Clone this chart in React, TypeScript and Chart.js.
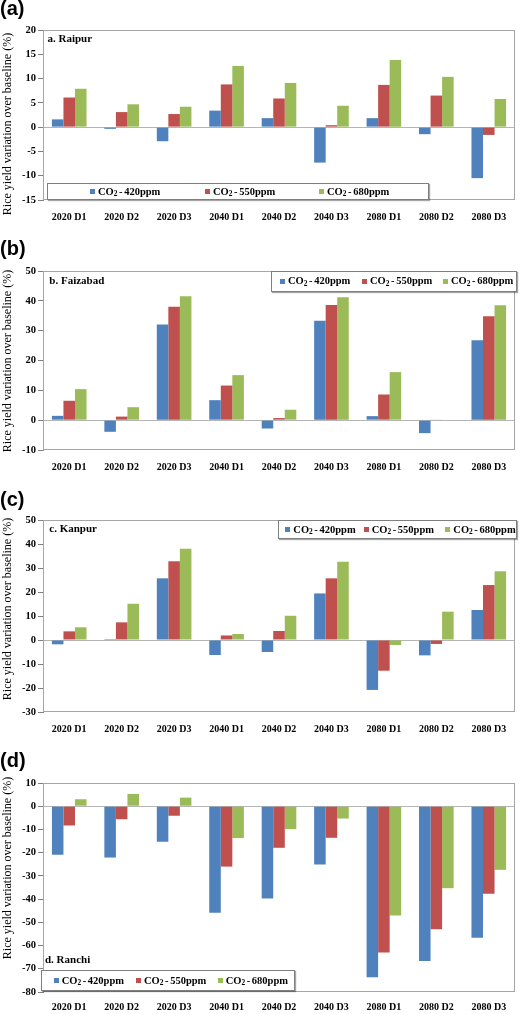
import React, { useEffect, useRef } from 'react';
import { Chart, registerables } from 'chart.js';

Chart.register(...registerables);

// ---------- data ----------
const CATEGORIES = ['2020 D1', '2020 D2', '2020 D3', '2040 D1', '2040 D2', '2040 D3', '2080 D1', '2080 D2', '2080 D3'];
const SERIES_PPM = ['420ppm', '550ppm', '680ppm'];
const SERIES_NAMES = ['CO₂ - 420ppm', 'CO₂ - 550ppm', 'CO₂ - 680ppm'];

const RAIPUR_420 = [1.6, -0.35, -2.9, 3.4, 1.85, -7.3, 1.85, -1.45, -10.5];
const RAIPUR_550 = [6.1, 3.1, 2.7, 8.8, 5.9, 0.4, 8.7, 6.5, -1.6];
const RAIPUR_680 = [7.9, 4.7, 4.2, 12.6, 9.1, 4.4, 13.8, 10.35, 5.8];

const FAIZABAD_420 = [1.45, -3.9, 32.1, 6.7, -2.8, 33.3, 1.35, -4.35, 26.8];
const FAIZABAD_550 = [6.5, 1.2, 38.0, 11.6, 0.7, 38.6, 8.6, 0.2, 34.8];
const FAIZABAD_680 = [10.4, 4.35, 41.5, 15.1, 3.5, 41.2, 16.1, 0, 38.5];

const KANPUR_420 = [-1.8, 0.4, 25.7, -6.25, -5.0, 19.4, -20.8, -6.4, 12.5];
const KANPUR_550 = [3.6, 7.35, 32.8, 1.9, 3.75, 25.7, -12.8, -1.65, 22.9];
const KANPUR_680 = [5.3, 15.1, 38.0, 2.5, 10.1, 32.6, -2.1, 11.8, 28.6];

const RANCHI_420 = [-20.9, -22.1, -15.3, -45.9, -39.7, -25.1, -73.7, -66.7, -56.6];
const RANCHI_550 = [-8.3, -5.6, -4.1, -26.0, -17.9, -13.6, -63.0, -53.0, -37.7];
const RANCHI_680 = [3.0, 5.3, 3.7, -13.7, -9.9, -5.3, -47.1, -35.3, -27.4];

// y axis: [min, max, step]
const RAIPUR_Y = [-15, 20, 5];
const FAIZABAD_Y = [-10, 50, 10];
const KANPUR_Y = [-30, 50, 10];
const RANCHI_Y = [-80, 10, 10];

const Y_TITLE = 'Rice yield variation over baseline (%)';

// ---------- styles ----------
const SERIES_COLORS = ['#4F81BD', '#C0504D', '#9BBB59'];
const SERIF = "'Liberation Serif', 'Times New Roman', serif";
const SANS = "'Liberation Sans', Arial, sans-serif";
const AREA_LEFT = 43;
const AREA_RIGHT_PAD = 5;

type LegendSpec = { left: number; top: number; width: number; height: number; offsets: number[] };
type PanelSpec = {
  letter: string;
  name: string;
  values: number[][];
  y: number[];
  canvasTop: number;
  canvasHeight: number;
  areaTop: number;
  areaBottom: number;
  labelGap: number;
  letterTop: number;
  nameX: number;
  nameY: number;
  titleY: number;
  legend: LegendSpec;
};

const PANELS: PanelSpec[] = [
  {
    letter: '(a)', name: 'a. Raipur', values: [RAIPUR_420, RAIPUR_550, RAIPUR_680], y: RAIPUR_Y,
    canvasTop: 0, canvasHeight: 235, areaTop: 30, areaBottom: 200, labelGap: 17,
    letterTop: -2, nameX: 47.5, nameY: 39.3, titleY: 124,
    legend: { left: 47, top: 183, width: 382, height: 17, offsets: [42, 157, 271] },
  },
  {
    letter: '(b)', name: 'b. Faizabad', values: [FAIZABAD_420, FAIZABAD_550, FAIZABAD_680], y: FAIZABAD_Y,
    canvasTop: 235, canvasHeight: 250, areaTop: 271, areaBottom: 450, labelGap: 17,
    letterTop: 238, nameX: 49.3, nameY: 280.7, titleY: 361,
    legend: { left: 271, top: 271, width: 246, height: 20.5, offsets: [8, 90, 171] },
  },
  {
    letter: '(c)', name: 'c. Kanpur', values: [KANPUR_420, KANPUR_550, KANPUR_680], y: KANPUR_Y,
    canvasTop: 485, canvasHeight: 262, areaTop: 520, areaBottom: 712, labelGap: 17,
    letterTop: 489, nameX: 49.3, nameY: 529.3, titleY: 609,
    legend: { left: 278.3, top: 520, width: 238.4, height: 19.3, offsets: [6, 84.4, 166] },
  },
  {
    letter: '(d)', name: 'd. Ranchi', values: [RANCHI_420, RANCHI_550, RANCHI_680], y: RANCHI_Y,
    canvasTop: 747, canvasHeight: 267, areaTop: 783, areaBottom: 992, labelGap: 15,
    letterTop: 750, nameX: 45, nameY: 960, titleY: 868,
    legend: { left: 40.7, top: 970, width: 254, height: 21, offsets: [12, 94.3, 176] },
  },
];

const framePlugin = {
  id: 'plotFrame',
  beforeDatasetsDraw(chart: any) {
    const { ctx, chartArea: a } = chart;
    ctx.save();
    ctx.strokeStyle = '#a6a6a6';
    ctx.lineWidth = 1;
    const l = Math.round(a.left) + 0.5;
    const t = Math.round(a.top) + 0.5;
    const r = Math.round(a.right) - 0.5;
    const b = Math.round(a.bottom) - 0.5;
    ctx.strokeRect(l, t, r - l, b - t);
    ctx.restore();
  },
};

function Panel({ p }: { p: PanelSpec }) {
  const ref = useRef<HTMLCanvasElement>(null);

  useEffect(() => {
    const canvas = ref.current;
    if (!canvas) return;
    const chart = new Chart(canvas, {
      type: 'bar',
      data: {
        labels: CATEGORIES,
        datasets: p.values.map((v, i) => ({
          label: SERIES_NAMES[i],
          data: v,
          backgroundColor: SERIES_COLORS[i],
          borderWidth: 0,
          barPercentage: 1,
          categoryPercentage: 0.66,
        })),
      },
      options: {
        responsive: false,
        maintainAspectRatio: false,
        animation: false,
        layout: { padding: { top: p.areaTop - p.canvasTop, right: AREA_RIGHT_PAD, bottom: 0, left: 0 } },
        plugins: {
          legend: { display: false },
          tooltip: { enabled: false },
          title: { display: false },
        },
        scales: {
          x: {
            grid: { display: false, drawTicks: false },
            border: { display: false },
            ticks: {
              font: { family: SERIF, size: 10, weight: 'bold' },
              color: '#000',
              padding: p.labelGap - 6,
              maxRotation: 0,
              autoSkip: false,
            },
            afterFit: (s: any) => {
              s.height = p.canvasTop + p.canvasHeight - p.areaBottom;
            },
          },
          y: {
            min: p.y[0],
            max: p.y[1],
            ticks: {
              stepSize: p.y[2],
              font: { family: SERIF, size: 10.5, weight: 'bold' },
              color: '#000',
              padding: 2,
            },
            grid: {
              drawOnChartArea: true,
              drawTicks: true,
              tickLength: 5,
              color: (ctx: any) => (ctx.tick && ctx.tick.value === 0 ? '#b5b5b5' : 'rgba(0,0,0,0)'),
              tickColor: '#808080',
            },
            border: { display: true, color: '#8c8c8c' },
            afterFit: (s: any) => {
              s.width = AREA_LEFT;
            },
          },
        },
      },
      plugins: [framePlugin],
    } as any);
    return () => chart.destroy();
  }, [p]);

  const lg = p.legend;
  return (
    <>
      <canvas
        ref={ref}
        width={520}
        height={p.canvasHeight}
        style={{ position: 'absolute', left: 0, top: p.canvasTop, width: 520, height: p.canvasHeight }}
      />
      <div
        style={{
          position: 'absolute', left: 0, top: p.letterTop, fontFamily: SANS, fontWeight: 'bold',
          fontSize: 20, lineHeight: '20px', color: '#000',
        }}
      >
        {p.letter}
      </div>
      <div
        style={{
          position: 'absolute', left: 7, top: p.titleY, transform: 'translate(-50%, -50%) rotate(-90deg)',
          whiteSpace: 'nowrap', fontFamily: SERIF, fontSize: 12, lineHeight: '12px', color: '#000',
        }}
      >
        {Y_TITLE}
      </div>
      <div
        style={{
          position: 'absolute', left: p.nameX, top: p.nameY - 6, fontFamily: SERIF, fontWeight: 'bold',
          fontSize: 11, lineHeight: '11px', color: '#000', whiteSpace: 'nowrap',
        }}
      >
        {p.name}
      </div>
      <div
        style={{
          position: 'absolute', left: lg.left, top: lg.top, width: lg.width, height: lg.height,
          boxSizing: 'border-box', border: '1px solid #7f7f7f', background: '#fff',
          boxShadow: '1px 1px 1px rgba(0,0,0,0.35)',
        }}
      >
        {SERIES_PPM.map((ppm, i) => (
          <div
            key={ppm}
            style={{
              position: 'absolute', left: lg.offsets[i], top: 0, height: lg.height - 2,
              display: 'flex', alignItems: 'center', whiteSpace: 'nowrap',
            }}
          >
            <span style={{ display: 'inline-block', width: 5, height: 5, background: SERIES_COLORS[i], marginRight: 3 }} />
            <span
              style={{
                fontFamily: SERIF, fontWeight: 'bold', fontSize: 10.5, lineHeight: '11px', color: '#000',
                wordSpacing: -1,
              }}
            >
              CO<span style={{ fontSize: '0.7em', position: 'relative', top: '0.2em' }}>2</span> - {ppm}
            </span>
          </div>
        ))}
      </div>
    </>
  );
}

export default function App() {
  return (
    <div
      style={{
        position: 'absolute', left: 0, top: 0, width: 520, height: 1014, overflow: 'hidden', background: '#fff',
      }}
    >
      {PANELS.map((p) => (
        <Panel key={p.letter} p={p} />
      ))}
    </div>
  );
}
